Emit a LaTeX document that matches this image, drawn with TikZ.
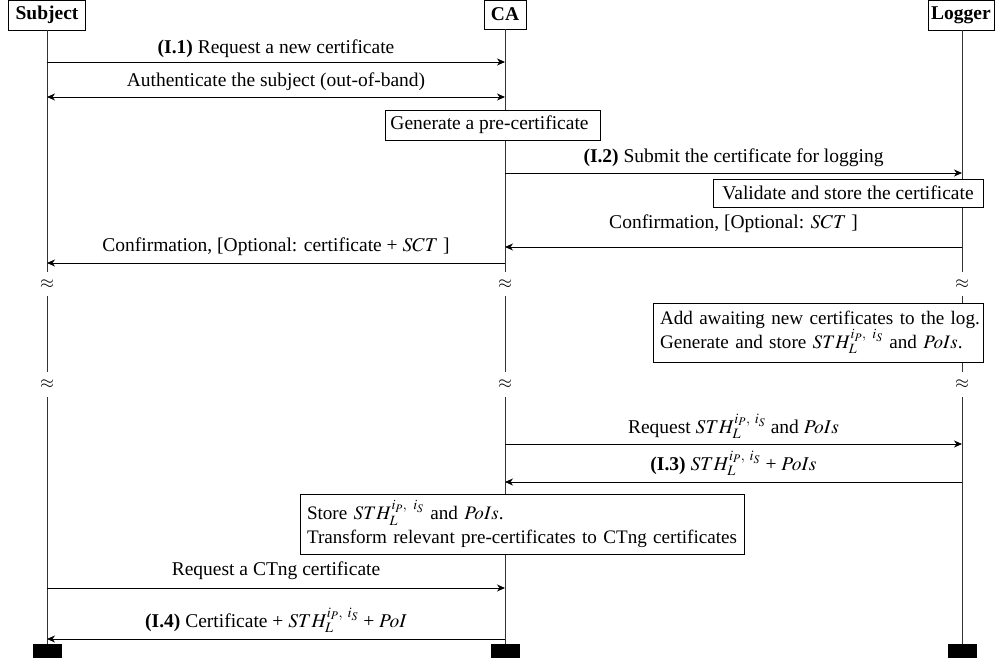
\documentclass[tikz,border=0pt]{standalone}
\usepackage{mathptmx}
\usepackage[no-math]{fontspec}
\setmainfont{Liberation Serif}
\usetikzlibrary{arrows.meta}

\newcommand{\sth}{STH_L^{i_P,\ i_S}}
\newcommand{\mainsize}{\fontsize{19.5}{23.5}\selectfont}
\newcommand{\notesize}{\fontsize{19.1}{23.5}\selectfont}

\tikzset{
  actor/.style={draw, line width=0.9pt, fill=white, font=\mainsize\bfseries, inner sep=0pt, minimum height=30pt},
  note/.style={draw, line width=0.9pt, fill=white, inner sep=0pt},
  notetext/.style={note, align=left, inner xsep=7pt, font=\notesize},
  lifeline/.style={line width=0.9pt, black!80},
  msg/.style={-{Stealth[length=8pt,width=7pt,inset=2.5pt]}, line width=0.9pt},
  bimsg/.style={{Stealth[length=8pt,width=7pt,inset=2.5pt]}-{Stealth[length=8pt,width=7pt,inset=2.5pt]}, line width=0.9pt},
  lbl/.style={midway, anchor=base, inner sep=0pt},
  brk/.style={inner sep=0pt, minimum height=24pt, font=\fontsize{18}{20}\selectfont},
  endblock/.style={fill=black, minimum width=29pt, minimum height=14pt, inner sep=0pt}
}

\begin{document}
\begin{tikzpicture}[x=1pt, y=-1pt, font=\mainsize]
\useasboundingbox (0,0) rectangle (995,663);

% participants
\node[actor, minimum width=77pt] (subj) at (47,15) {Subject};
\node[actor, minimum width=42pt, minimum height=29pt] (ca) at (505,14.5) {CA};
\node[actor, minimum width=66pt] (log) at (961,15) {Logger};

% breaks in the lifelines
\node[brk] (subjB1) at (47,284) {$\approx$};
\node[brk, minimum height=25pt] (subjB2) at (47,384.5) {$\approx$};
\node[brk] (caB1) at (505,284) {$\approx$};
\node[brk, minimum height=25pt] (caB2) at (505,384.5) {$\approx$};
\node[brk] (logB1) at (962,284) {$\approx$};
\node[brk, minimum height=25pt] (logB2) at (962,384.5) {$\approx$};

% end markers
\node[endblock] (subjE) at (47,651) {};
\node[endblock] (caE) at (505,651) {};
\node[endblock] (logE) at (962,651) {};

% lifelines
\draw[lifeline] (subj.south) -- (subjB1.north) (subjB1.south) -- (subjB2.north) (subjB2.south) -- (subjE.north);
\draw[lifeline] (ca.south) -- (caB1.north) (caB1.south) -- (caB2.north) (caB2.south) -- (caE.north);
\draw[lifeline] (log.south -| logE) -- (logB1.north) (logB1.south) -- (logB2.north) (logB2.south) -- (logE.north);

% activity notes
\node[note, minimum width=215pt, minimum height=30pt] (gen) at (492.5,125) {Generate a pre-certificate\kern6pt};
\node[note, minimum width=270pt, minimum height=28pt] (val) at (848,193) {Validate and store the certificate};
\node[notetext, text width=316pt, minimum height=59pt] (add) at (818,332.5)
  {\mbox{Add awaiting new certificates to the log.}\\\mbox{Generate and store $\sth$ and $PoIs$.}};
\node[notetext, text width=430pt, minimum height=60pt] (store) at (522,524)
  {\mbox{Store $\sth$ and $PoIs$.}\\\mbox{Transform relevant pre-certificates to CTng certificates}};

% message end points
\coordinate (s1) at (47,62);   \coordinate (c1) at (505,62);
\coordinate (s2) at (47,97);   \coordinate (c2) at (505,97);
\coordinate (c3) at (505,173); \coordinate (l3) at (962,173);
\coordinate (l4) at (962,247); \coordinate (c4) at (505,247);
\coordinate (c5) at (505,263); \coordinate (s5) at (47,263);
\coordinate (c6) at (505,444); \coordinate (l6) at (962,444);
\coordinate (l7) at (962,482); \coordinate (c7) at (505,482);
\coordinate (s8) at (47,588);  \coordinate (c8) at (505,588);
\coordinate (c9) at (505,639); \coordinate (s9) at (47,639);

% messages
\draw[msg] (s1) -- node[lbl, yshift=8pt] {\textbf{(I.1)} Request a new certificate} (c1);
\draw[bimsg] (s2) -- node[lbl, yshift=10pt] {Authenticate the subject (out-of-band)} (c2);
\draw[msg] (c3) -- node[lbl, yshift=10pt] {\textbf{(I.2)} Submit the certificate for logging} (l3);
\draw[msg] (l4) -- node[lbl, yshift=19pt] {Confirmation, [Optional: $SCT$\ ]} (c4);
\draw[msg] (c5) -- node[lbl, yshift=12pt] {Confirmation, [Optional: certificate + $SCT$\ ]} (s5);
\draw[msg] (c6) -- node[lbl, yshift=11pt] {Request $\sth$ and $PoIs$} (l6);
\draw[msg] (l7) -- node[lbl, yshift=12pt] {\textbf{(I.3)} $\sth$ + $PoIs$} (c7);
\draw[msg] (s8) -- node[lbl, yshift=13pt] {Request a CTng certificate} (c8);
\draw[msg] (c9) -- node[lbl, yshift=12pt] {\textbf{(I.4)} Certificate + $\sth$ + $PoI$} (s9);
\end{tikzpicture}
\end{document}
